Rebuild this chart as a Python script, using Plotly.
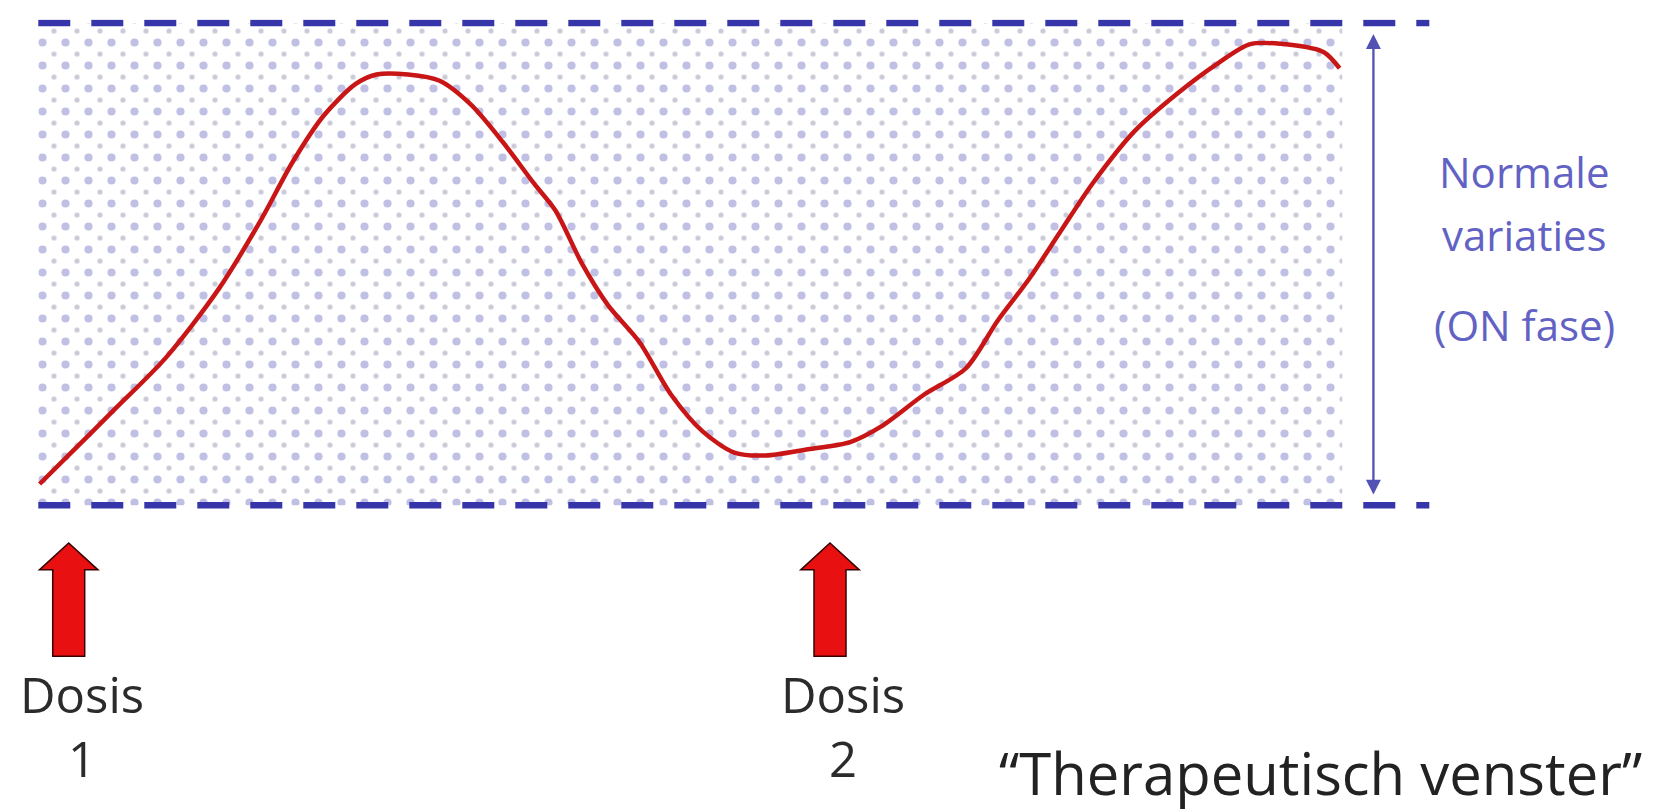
import plotly.graph_objects as go

# ---- data (time in arbitrary units, level in % of therapeutic window) ----
time = [0.0, 0.243, 0.567, 0.972, 1.377, 1.70, 1.943, 2.186, 2.429, 2.591, 2.834,
        3.077, 3.32, 3.563, 3.806, 3.968, 4.17, 4.372, 4.615, 4.858, 5.10, 5.344,
        5.587, 5.911, 6.235, 6.478, 6.802, 7.126, 7.368, 7.611, 7.854, 8.097,
        8.421, 8.745, 9.069, 9.312, 9.636, 9.879, 10.0]
level = [4.4, 10.9, 19.6, 30.6, 44.8, 59.0, 71.0, 80.8, 87.3, 89.3, 89.3,
         88.0, 83.0, 75.3, 66.6, 61.1, 50.2, 41.5, 33.8, 22.9, 15.3, 10.9,
         10.3, 11.6, 13.1, 16.4, 22.9, 28.4, 38.2, 46.9, 56.8, 66.6,
         77.5, 85.2, 91.7, 95.6, 95.4, 93.9, 90.6]
window_low = 0
window_high = 100
window_start = -0.01
window_end = 10.02
line_end = 10.69
dose_times = [0.224, 6.08]
dose_labels = ["Dosis<br>1", "Dosis<br>2"]
side_labels = ["Normale", "variaties", "(ON fase)"]
title_text = "“Therapeutisch venster”"

# ---- layout geometry ----
W, H = 1660, 811
X_RANGE = [-0.243, 12.526]
Y_RANGE = [-65.06, 103.09]
px_per_x = W / (X_RANGE[1] - X_RANGE[0])
px_per_y = H / (Y_RANGE[1] - Y_RANGE[0])
TILE = 23
off = TILE / 2  # offset of the second (staggered) dot grid in pixels

fig = go.Figure()

win_x = [window_start, window_end, window_end, window_start, window_start]
win_y = [window_low, window_low, window_high, window_high, window_low]

# large dots (main subplot)
fig.add_trace(go.Scatter(
    x=win_x, y=win_y, mode="lines", line=dict(width=0), fill="toself",
    fillcolor="rgba(0,0,0,0)",
    fillpattern=dict(shape=".", size=TILE, solidity=0.1, fgcolor="#8282cc",
                     bgcolor="rgba(0,0,0,0)"),
    hoverinfo="skip", showlegend=False, xaxis="x", yaxis="y"))

# small staggered dots (offset subplot)
fig.add_trace(go.Scatter(
    x=win_x, y=win_y, mode="lines", line=dict(width=0), fill="toself",
    fillcolor="rgba(0,0,0,0)",
    fillpattern=dict(shape=".", size=TILE, solidity=0.04, fgcolor="#9494b0",
                     bgcolor="rgba(0,0,0,0)"),
    hoverinfo="skip", showlegend=False, xaxis="x2", yaxis="y2"))

# boundaries
for yv in (window_low, window_high):
    fig.add_trace(go.Scatter(
        x=[window_start, line_end], y=[yv, yv], mode="lines",
        line=dict(color="#3636aa", width=6.5, dash="32px,21px"),
        hoverinfo="skip", showlegend=False, xaxis="x2", yaxis="y2"))

# concentration curve
fig.add_trace(go.Scatter(
    x=time, y=level, mode="lines",
    line=dict(color="#c81616", width=4.5, shape="spline", smoothing=0.8),
    hoverinfo="skip", showlegend=False, xaxis="x2", yaxis="y2"))

shapes = []
tip, head_base, bottom = -7.84, -13.4, -31.3
hw, sw = 0.225, 0.123
for t in dose_times:
    path = (f"M {t},{tip} L {t+hw},{head_base} L {t+sw},{head_base} L {t+sw},{bottom} "
            f"L {t-sw},{bottom} L {t-sw},{head_base} L {t-hw},{head_base} Z")
    shapes.append(dict(type="path", path=path, xref="x", yref="y",
                       fillcolor="#e81010", line=dict(color="#3a0000", width=1.5)))

annotations = []
for t, lab in zip(dose_times, dose_labels):
    annotations.append(dict(x=t + 0.1, y=-45.8, text=lab, showarrow=False,
                            xref="x", yref="y", yanchor="middle",
                            font=dict(family="Open Sans", size=49, color="#2b2b2b")))

# double arrow for normal variations
annotations.append(dict(x=10.26, y=2.2, ax=10.26, ay=98.0, xref="x", yref="y",
                        axref="x", ayref="y", text="", showarrow=True,
                        arrowhead=2, startarrowhead=2, arrowside="end+start",
                        arrowsize=1.3, startarrowsize=1.3,
                        arrowwidth=2.3, arrowcolor="#5252b4"))
for lab, yv in zip(side_labels, [69.2, 56.2, 37.5]):
    annotations.append(dict(x=11.42, y=yv, text=lab, showarrow=False, xref="x", yref="y",
                            font=dict(family="Open Sans", size=42, color="#6262c4")))

annotations.append(dict(x=9.85, y=-55.4, text=title_text, showarrow=False,
                        xref="x", yref="y",
                        font=dict(family="Open Sans", size=58, color="#222222")))

fig.update_layout(
    width=W, height=H, margin=dict(l=0, r=0, t=0, b=0),
    paper_bgcolor="white", plot_bgcolor="rgba(0,0,0,0)",
    xaxis=dict(range=X_RANGE, domain=[0, 1], visible=False, fixedrange=True),
    yaxis=dict(range=Y_RANGE, domain=[0, 1], visible=False, fixedrange=True),
    xaxis2=dict(range=[X_RANGE[0] + off / px_per_x, X_RANGE[1]],
                domain=[off / W, 1], anchor="y2", visible=False, fixedrange=True),
    yaxis2=dict(range=[Y_RANGE[0], Y_RANGE[1] - off / px_per_y],
                domain=[0, 1 - off / H], anchor="x2", visible=False, fixedrange=True),
    shapes=shapes, annotations=annotations, showlegend=False)

fig.write_html("out.html")
